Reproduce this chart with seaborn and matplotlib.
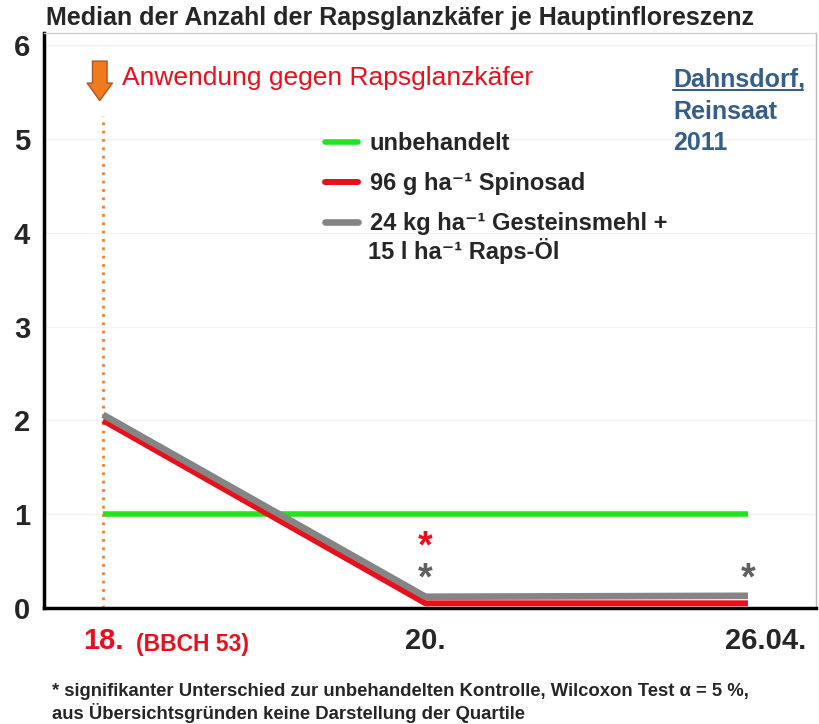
import pandas as pd
import numpy as np
from matplotlib import pyplot as plt
from matplotlib.lines import Line2D
from matplotlib.transforms import ScaledTranslation
import seaborn as sns

sns.set_style('white')
plt.rcParams['font.family'] = ['Liberation Sans', 'DejaVu Sans']

# data
dates = ['18.', '20.', '26.04.']
positions = [0, 1, 2]
unbehandelt = [1.0, 1.0, 1.0]
spinosad = [2.0, 0.05, 0.05]
gesteinsmehl = [2.06, 0.12, 0.13]
series_names = ['unbehandelt', '96 g ha⁻¹ Spinosad', '24 kg ha⁻¹ Gesteinsmehl +']
series_colors = ['#22e41e', '#e8101c', '#858585']
series_widths = [4.0, 4.3, 4.8]
# significance stars: (position, height, colour)
stars_x = [1, 1, 2]
stars_y = [0.65, 0.30, 0.30]
stars_c = ['#e8101c', '#606060', '#606060']

df = pd.DataFrame({
    'pos': positions * 3,
    'value': unbehandelt + spinosad + gesteinsmehl,
    'series': [n for n in series_names for _ in positions],
})

fig = plt.figure(figsize=(8.19, 7.24), dpi=100)
ax = fig.add_axes([44 / 819, 1 - 608 / 724, (816 - 44) / 819, (608 - 33) / 724])

for name, col, lw in zip(series_names, series_colors, series_widths):
    sns.lineplot(data=df[df['series'] == name], x='pos', y='value', color=col,
                 linewidth=lw, ax=ax, legend=False, solid_capstyle='butt', zorder=3)

ax.set_xlim(-0.183, 2.211)
ax.set_ylim(0, 6.13)
ax.set_yticks(range(7))
ax.set_yticklabels([str(i) for i in range(7)], fontsize=21, fontweight='bold')
ax.set_xticks(positions)
ax.set_xticklabels(dates, fontsize=21, fontweight='bold')
ax.tick_params(axis='both', direction='out', length=5, width=2, color='black')
ax.tick_params(axis='x', pad=9)
ax.tick_params(axis='y', pad=5)
xl = ax.get_xticklabels()
xl[0].set_color('#e8101c')
xl[2].set_transform(xl[2].get_transform() + ScaledTranslation(0.18, 0, fig.dpi_scale_trans))
ax.set_xlabel('')
ax.set_ylabel('')
for y in range(1, 7):
    ax.axhline(y, color='#f2f2f2', linewidth=1, zorder=0)

ax.spines['left'].set_linewidth(2.5)
ax.spines['bottom'].set_linewidth(2.5)
ax.spines['left'].set_color('black')
ax.spines['bottom'].set_color('black')
ax.spines['top'].set_color('#cccccc')
ax.spines['right'].set_color('#bbbbbb')
ax.spines['top'].set_linewidth(1)
ax.spines['right'].set_linewidth(1)

# application marker
ax.plot([0, 0], [0, 5.25], color='#f08030', linestyle=(0, (1, 2)), linewidth=2, zorder=2)
ax.annotate('', xy=(-0.01, 5.38), xytext=(-0.01, 5.86),
            arrowprops=dict(arrowstyle='simple,head_width=1.3,head_length=0.9,tail_width=0.75',
                            fc='#f07a1e', ec='#b0561a', lw=1, mutation_scale=14))
ax.text(0.06, 5.65, 'Anwendung gegen Rapsglanzkäfer', color='#e8101c', fontsize=19,
        ha='left', va='center')

# stars
for sx, sy, sc in zip(stars_x, stars_y, stars_c):
    ax.text(sx, sy, '*', color=sc, fontsize=27, fontweight='bold', ha='center', va='center')

# site label
blue = '#355e8a'
fig.text(673 / 819, 1 - 80 / 724, 'Dahnsdorf,', color=blue, fontsize=18, fontweight='bold', va='center')
fig.text(673 / 819, 1 - 112 / 724, 'Reinsaat', color=blue, fontsize=18, fontweight='bold', va='center')
fig.text(673 / 819, 1 - 143 / 724, '2011', color=blue, fontsize=18, fontweight='bold', va='center')
fig.add_artist(Line2D([673 / 819, 803 / 819], [1 - 90 / 724, 1 - 90 / 724], color=blue, linewidth=1.5))

# legend
handles = [Line2D([], [], color=c, linewidth=w) for c, w in zip(series_colors, series_widths)]
leg = ax.legend(handles, series_names, loc='upper left', bbox_to_anchor=(325 / 819, 1 - 132 / 724),
                bbox_transform=fig.transFigure, frameon=False, handlelength=1.4, borderpad=0,
                borderaxespad=0, handletextpad=0.5, labelspacing=0.72,
                prop={'size': 17, 'weight': 'bold'})
fig.text(368 / 819, 1 - 251 / 724, '15 l ha⁻¹ Raps-Öl', fontsize=17, fontweight='bold', va='center')

fig.text(46 / 819, 1 - 18 / 724, 'Median der Anzahl der Rapsglanzkäfer je Hauptinfloreszenz',
         fontsize=18, fontweight='bold', va='center', ha='left')
fig.text(136 / 819, 1 - 645 / 724, '(BBCH 53)', color='#e8101c', fontsize=16.5, fontweight='bold', va='center')
fig.text(52 / 819, 1 - 692 / 724, '* signifikanter Unterschied zur unbehandelten Kontrolle, Wilcoxon Test α = 5 %,',
         fontsize=13.3, fontweight='bold', va='center')
fig.text(52 / 819, 1 - 713 / 724, 'aus Übersichtsgründen keine Darstellung der Quartile',
         fontsize=13.3, fontweight='bold', va='center')

fig.savefig('out.png', dpi=100)
